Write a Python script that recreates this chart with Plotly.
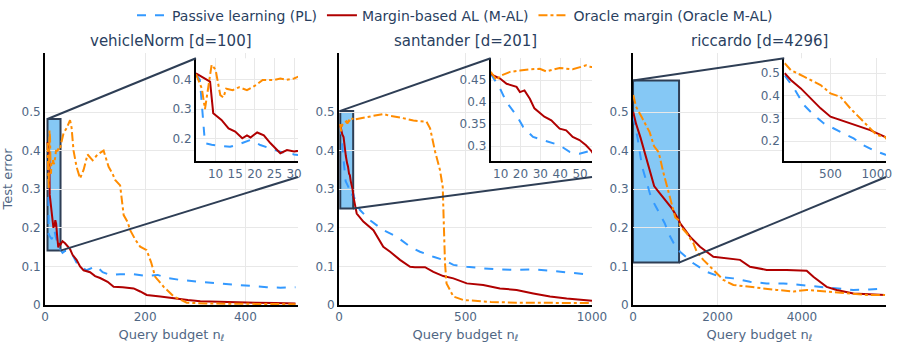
import plotly.graph_objects as go

# ---- data ----
titles = ["vehicleNorm [d=100]", "santander [d=201]", "riccardo [d=4296]"]
legend_names = ["Passive learning (PL)", "Margin-based AL (M-AL)", "Oracle margin (Oracle M-AL)"]

# vehicleNorm
veh_pl_x = [5, 6, 7.3, 9, 11, 13.7, 16, 18.8, 21.4, 24, 26.5, 30, 35, 40, 50, 57, 63, 70, 83, 95, 103, 115,
            130, 150, 177, 203, 225, 243, 270, 310, 340, 377, 410, 443, 470, 500]
veh_pl_y = [0.42, 0.40, 0.183, 0.178, 0.175, 0.171, 0.18, 0.194, 0.177, 0.165, 0.154, 0.145, 0.135, 0.14, 0.14,
            0.125, 0.11, 0.10, 0.09, 0.097, 0.10, 0.085, 0.078, 0.08, 0.08, 0.075, 0.078, 0.07, 0.065, 0.06,
            0.057, 0.052, 0.05, 0.046, 0.045, 0.046]
veh_mal_x = [5, 8.6, 9.4, 11.5, 13.3, 15, 16.8, 18, 18.9, 20.6, 22.3, 24, 26.5, 28.2, 30, 35, 40, 50, 55, 63, 70,
             77, 90, 100, 110, 125, 137, 155, 177, 190, 203, 230, 257, 285, 310, 350, 380, 420, 460, 500]
veh_mal_y = [0.422, 0.394, 0.286, 0.263, 0.234, 0.223, 0.20, 0.21, 0.203, 0.22, 0.21, 0.183, 0.149, 0.16, 0.155,
             0.165, 0.16, 0.145, 0.13, 0.117, 0.10, 0.09, 0.085, 0.075, 0.07, 0.06, 0.047, 0.046, 0.043, 0.035,
             0.026, 0.022, 0.017, 0.013, 0.01, 0.008, 0.007, 0.006, 0.005, 0.004]
veh_orc_x = [5, 6.5, 7.3, 8.2, 9, 10, 11.2, 12, 12.7, 14.4, 16, 18, 20.4, 22, 25, 26.5, 28, 30, 33, 37, 43, 50,
             53, 57, 63, 70, 77, 85, 95, 105, 117, 122, 127, 135, 140, 150, 157, 165, 170, 180, 190, 203, 212,
             220, 237, 257, 283, 320, 380, 440, 500]
veh_orc_y = [0.42, 0.37, 0.30, 0.38, 0.452, 0.435, 0.348, 0.34, 0.37, 0.365, 0.375, 0.365, 0.383, 0.40, 0.40,
             0.405, 0.40, 0.405, 0.423, 0.445, 0.458, 0.479, 0.46, 0.40, 0.358, 0.328, 0.35, 0.39, 0.375, 0.39,
             0.40, 0.38, 0.358, 0.34, 0.324, 0.31, 0.233, 0.215, 0.194, 0.17, 0.151, 0.142, 0.11, 0.073, 0.047,
             0.022, 0.006, 0.004, 0.003, 0.003, 0.002]

# santander
san_pl_x = [5, 9.7, 13, 18, 21.3, 26.3, 31.3, 36.3, 39.7, 44.7, 49.7, 55.5, 63, 83, 122, 175, 228, 281, 320, 373,
            412, 452, 505, 570, 636, 702, 768, 834, 900, 950, 1000]
san_pl_y = [0.465, 0.431, 0.40, 0.37, 0.344, 0.321, 0.314, 0.306, 0.302, 0.287, 0.283, 0.29, 0.272, 0.246, 0.22,
            0.194, 0.177, 0.151, 0.138, 0.125, 0.117, 0.104, 0.099, 0.095, 0.092, 0.091, 0.092, 0.089, 0.084,
            0.08, 0.078]
san_mal_x = [5, 6.3, 9.7, 13, 18, 19.7, 22, 24.7, 27, 32, 35.5, 39.7, 43, 46.3, 49.7, 53, 55.5, 57, 70, 96, 136,
             175, 202, 241, 281, 300, 340, 373, 412, 452, 505, 570, 636, 702, 768, 834, 900, 1000]
san_mal_y = [0.465, 0.461, 0.454, 0.442, 0.435, 0.423, 0.427, 0.408, 0.386, 0.367, 0.359, 0.34, 0.336, 0.321,
             0.314, 0.302, 0.29, 0.28, 0.237, 0.216, 0.194, 0.151, 0.138, 0.117, 0.099, 0.098, 0.098, 0.086,
             0.075, 0.069, 0.056, 0.052, 0.043, 0.039, 0.030, 0.022, 0.017, 0.011]
san_orc_x = [5, 8, 9.7, 14.7, 19.7, 24.7, 29.7, 33, 39.7, 46.3, 53, 55.5, 109, 175, 202, 241, 294, 346, 360, 380,
             399, 406, 410, 415, 419, 425, 439, 452, 491, 531, 600, 700, 800, 900, 1000]
san_orc_y = [0.469, 0.45, 0.46, 0.469, 0.472, 0.475, 0.476, 0.47, 0.478, 0.475, 0.484, 0.48, 0.486, 0.495, 0.49,
             0.486, 0.478, 0.475, 0.458, 0.397, 0.35, 0.315, 0.306, 0.194, 0.108, 0.056, 0.039, 0.022, 0.013,
             0.011, 0.008, 0.006, 0.006, 0.005, 0.005]

# riccardo
ric_pl_x = [5, 107, 214, 321, 429, 536, 643, 750, 857, 964, 1089, 1113, 1429, 1744, 2060, 2376, 2770, 3165, 3560,
            3954, 4349, 4743, 5217, 5600, 5967]
ric_pl_y = [0.49, 0.433, 0.359, 0.315, 0.278, 0.256, 0.234, 0.212, 0.182, 0.16, 0.141, 0.138, 0.108, 0.086,
            0.073, 0.069, 0.06, 0.056, 0.056, 0.052, 0.047, 0.043, 0.039, 0.04, 0.043]
ric_mal_x = [5, 71, 179, 286, 393, 500, 607, 714, 821, 929, 1089, 1113, 1350, 1586, 1902, 2218, 2534, 2770, 3165,
             3638, 4112, 4270, 4585, 4822, 5217, 5967]
ric_mal_y = [0.50, 0.47, 0.433, 0.389, 0.345, 0.308, 0.293, 0.278, 0.263, 0.249, 0.219, 0.212, 0.177, 0.151,
             0.125, 0.121, 0.117, 0.099, 0.091, 0.091, 0.089, 0.073, 0.047, 0.039, 0.030, 0.026]
ric_orc_x = [5, 71, 214, 393, 500, 607, 714, 821, 929, 1000, 1089, 1113, 1271, 1429, 1508, 1665, 1902, 2139,
             2376, 2770, 3007, 3402, 3796, 4112, 4585, 5059, 5533, 5967]
ric_orc_y = [0.544, 0.514, 0.485, 0.448, 0.411, 0.396, 0.345, 0.30, 0.256, 0.227, 0.219, 0.205, 0.186, 0.16,
             0.138, 0.117, 0.091, 0.065, 0.052, 0.047, 0.043, 0.039, 0.035, 0.039, 0.035, 0.030, 0.026, 0.026]

datasets = [
    [(veh_pl_x, veh_pl_y), (veh_mal_x, veh_mal_y), (veh_orc_x, veh_orc_y)],
    [(san_pl_x, san_pl_y), (san_mal_x, san_mal_y), (san_orc_x, san_orc_y)],
    [(ric_pl_x, ric_pl_y), (ric_mal_x, ric_mal_y), (ric_orc_x, ric_orc_y)],
]

# ---- layout ----
colors = ["#3399FF", "#B00000", "#FF8C00"]
dashes = ["dash", "solid", "dashdot"]
ink = "#2E3E55"
font = "DejaVu Sans"

main_dom = [[0.0, 0.3008], [0.3496, 0.6504], [0.6992, 1.0]]
main_xrange = [[0, 505], [0, 1000], [0, 5990]]
main_xticks = [[0, 200, 400], [0, 500, 1000], [0, 2000, 4000]]
yrange = [0, 0.653]
inset_dom_x = [[0.1795, 0.3008], [0.530, 0.6504], [0.879, 1.0]]
inset_dom_y = [0.571, 0.979]
inset_xrange = [[5, 31], [5, 56], [0, 1100]]
inset_yrange = [[0.122, 0.474], [0.266, 0.5], [0.112, 0.566]]
inset_xticks = [[10, 15, 20, 25, 30], [10, 20, 30, 40, 50], [500, 1000]]
inset_yticks = [[0.2, 0.3, 0.4], [0.3, 0.35, 0.4, 0.45], [0.2, 0.3, 0.4, 0.5]]
rects = [[5, 31, 0.141, 0.482], [5, 56, 0.25, 0.503], [0, 1090, 0.11, 0.582]]

fig = go.Figure()
for i in range(3):
    for k, (xs, ys) in enumerate(datasets[i]):
        for ax in (i + 1, i + 4):
            fig.add_trace(go.Scatter(
                x=xs, y=ys, mode="lines", name=legend_names[k],
                line=dict(color=colors[k], dash=dashes[k], width=2),
                xaxis="x" + ("" if ax == 1 else str(ax)), yaxis="y" + ("" if ax == 1 else str(ax)),
                showlegend=(i == 0 and ax == 1), legendgroup=str(k)))

tickcol = "#506784"
axis_common = dict(showline=True, linecolor="black", linewidth=2, gridcolor="#E8E8E8",
                   zeroline=False, ticks="", automargin=False, tickfont=dict(size=12, color=tickcol))
layout = {}
for i in range(3):
    sx = "" if i == 0 else str(i + 1)
    layout["xaxis" + sx] = dict(axis_common, domain=main_dom[i], range=main_xrange[i],
                                tickvals=main_xticks[i], anchor="y" + sx,
                                title=dict(text="Query budget n<sub>ℓ</sub>", font=dict(size=13, color=tickcol), standoff=6))
    layout["yaxis" + sx] = dict(axis_common, domain=[0, 1], range=yrange, anchor="x" + sx,
                                tickvals=[0, 0.1, 0.2, 0.3, 0.4, 0.5])
    si = str(i + 4)
    layout["xaxis" + si] = dict(axis_common, domain=inset_dom_x[i], range=inset_xrange[i],
                                tickvals=inset_xticks[i], anchor="y" + si)
    layout["yaxis" + si] = dict(axis_common, domain=inset_dom_y, range=inset_yrange[i],
                                tickvals=inset_yticks[i], ticktext=[str(v) for v in inset_yticks[i]],
                                anchor="x" + si)
layout["yaxis"]["title"] = dict(text="Test error", font=dict(size=13, color=tickcol), standoff=6)

shapes = []
annotations = []
for i in range(3):
    sx = "" if i == 0 else str(i + 1)
    x0, x1, y0, y1 = rects[i]
    shapes.append(dict(type="rect", xref="x" + sx, yref="y" + sx, x0=x0, x1=x1, y0=y0, y1=y1,
                       fillcolor="#85C8F5", line=dict(color=ink, width=2), layer="below"))
    d0, d1 = main_dom[i]
    r0, r1 = main_xrange[i]

    def px(v):
        return d0 + (v - r0) / (r1 - r0) * (d1 - d0)

    def py(v):
        return (v - yrange[0]) / (yrange[1] - yrange[0])

    shapes.append(dict(type="line", xref="paper", yref="paper", x0=px(x0), y0=py(y1),
                       x1=inset_dom_x[i][0], y1=inset_dom_y[1], line=dict(color=ink, width=2)))
    shapes.append(dict(type="line", xref="paper", yref="paper", x0=px(x1), y0=py(y0),
                       x1=inset_dom_x[i][1], y1=0.508, line=dict(color=ink, width=2)))
    annotations.append(dict(text=titles[i], x=(d0 + d1) / 2, y=1.0, xref="paper", yref="paper",
                            xanchor="center", yanchor="bottom", yshift=1, showarrow=False,
                            font=dict(size=15, color="#2a3f5f")))

fig.update_layout(
    **layout,
    shapes=shapes, annotations=annotations,
    template="plotly_white",
    width=900, height=347,
    font=dict(family=font, color="#2a3f5f"),
    margin=dict(l=45, r=14, t=53, b=42, autoexpand=False),
    legend=dict(orientation="h", x=0.4875, xanchor="center", y=1.212, yanchor="top",
                font=dict(size=14), bgcolor="rgba(0,0,0,0)"),
    plot_bgcolor="white", paper_bgcolor="white",
)
fig.write_html("out.html", config={"displayModeBar": False},
               post_script="document.body.style.margin='0';")
